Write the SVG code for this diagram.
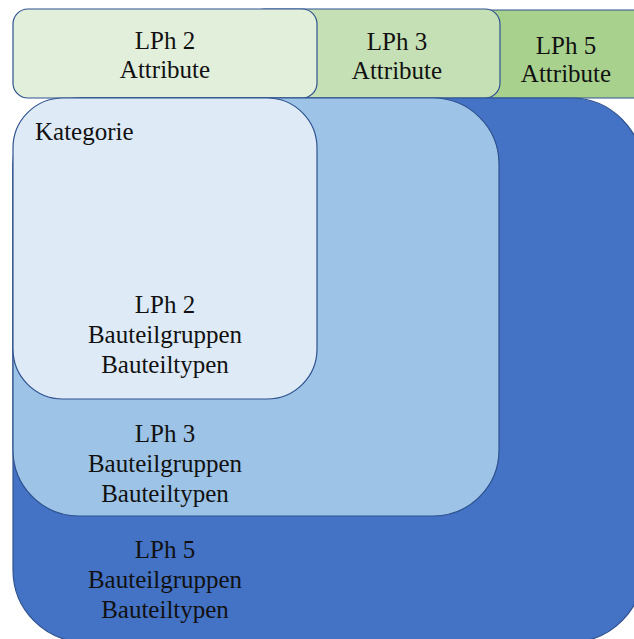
<svg xmlns="http://www.w3.org/2000/svg" width="634" height="639" viewBox="0 0 634 639">
  <style>
    .box { stroke: #2F528F; stroke-width: 1.2; }
    .lbl { font-family: "Liberation Serif", "Times New Roman", serif; font-size: 25px; fill: #111; text-anchor: middle; }
    .left { text-anchor: start; }
  </style>
  <rect width="634" height="639" fill="#FFFFFF"/>

  <!-- Attribute header tabs -->
  <g id="attr-lph5">
    <rect class="box" x="400" y="10" width="260" height="88" rx="15" fill="#A9D18E"/>
    <text class="lbl" x="566" y="54">LPh 5</text>
    <text class="lbl" x="566" y="82">Attribute</text>
  </g>
  <g id="attr-lph3">
    <rect class="box" x="250" y="9" width="250" height="89" rx="15" fill="#C5E0B4"/>
    <text class="lbl" x="397" y="50">LPh 3</text>
    <text class="lbl" x="397" y="79">Attribute</text>
  </g>
  <g id="attr-lph2">
    <rect class="box" x="13" y="9" width="304" height="89" rx="15" fill="#E2EFDA"/>
    <text class="lbl" x="165" y="49">LPh 2</text>
    <text class="lbl" x="165" y="78">Attribute</text>
  </g>

  <!-- Nested component scopes -->
  <g id="scope-lph5">
    <rect class="box" x="13" y="98" width="630" height="544" rx="72" fill="#4472C4"/>
    <text class="lbl" x="165" y="558">LPh 5</text>
    <text class="lbl" x="165" y="588">Bauteilgruppen</text>
    <text class="lbl" x="165" y="618">Bauteiltypen</text>
  </g>
  <g id="scope-lph3">
    <rect class="box" x="13" y="98" width="486" height="418" rx="66" fill="#9DC3E6"/>
    <text class="lbl" x="165" y="442">LPh 3</text>
    <text class="lbl" x="165" y="472">Bauteilgruppen</text>
    <text class="lbl" x="165" y="502">Bauteiltypen</text>
  </g>
  <g id="scope-lph2">
    <rect class="box" x="13" y="98" width="304" height="301" rx="50" fill="#DEEBF7"/>
    <text class="lbl left" x="35" y="140">Kategorie</text>
    <text class="lbl" x="165" y="313">LPh 2</text>
    <text class="lbl" x="165" y="343">Bauteilgruppen</text>
    <text class="lbl" x="165" y="373">Bauteiltypen</text>
  </g>

  <g id="connectors"/>
</svg>
